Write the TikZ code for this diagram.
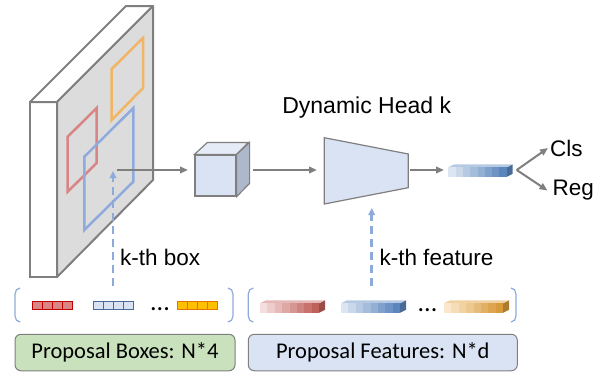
\documentclass[tikz,border=0pt]{standalone}
\usepackage{fontspec}
\setmainfont{Liberation Sans}
\newfontfamily\calibrifont{Carlito}
\usepackage{xcolor}
\usetikzlibrary{arrows.meta}

\definecolor{edgegray}{HTML}{7F7F7F}
\definecolor{mapgray}{HTML}{DCDCDC}
\definecolor{dashblue}{HTML}{8EAADB}
\definecolor{headblue}{HTML}{DAE3F3}
\definecolor{cubeside}{HTML}{ADB9CA}
\definecolor{boxred}{HTML}{D98585}
\definecolor{boxorange}{HTML}{F0B565}
\definecolor{boxblue}{HTML}{8FAADC}
\definecolor{capgreen}{HTML}{C9E2BD}
\definecolor{cellorange}{HTML}{FFC000}
\definecolor{redlight}{HTML}{F4DEDE}
\definecolor{reddark}{HTML}{C0605A}
\definecolor{bluelight}{HTML}{DCE6F2}
\definecolor{bluedark}{HTML}{5B86BD}
\definecolor{orangelight}{HTML}{FBE8CC}
\definecolor{orangedark}{HTML}{D89A3A}

% 3d feature vector: x, y (front top left), width, light, dark
\newcommand{\featbar}[5]{
  \fill[#5!80!black] (#1+#3,#2) -- (#1+#3+6,#2-3) -- (#1+#3+6,#2+6.5) -- (#1+#3,#2+9.5) -- cycle;
  \fill[#4!70!#5] (#1,#2) -- (#1+6,#2-3) -- (#1+#3+6,#2-3) -- (#1+#3,#2) -- cycle;
  \foreach \i in {0,...,7}{
    \pgfmathsetmacro\p{\i*100/7}
    \fill[#5!\p!#4] (#1+\i*#3/8,#2) rectangle (#1+\i*#3/8+#3/8+0.3,#2+9.5);
  }
}
% row of 4 box cells: x, y, fill, border
\newcommand{\cellrow}[4]{
  \foreach \i in {0,...,3}
    \draw[fill=#3, draw=#4, line width=0.9pt] (#1+\i*10,#2) rectangle +(10,8);
}
% round bracket: x, direction
\newcommand{\bracket}[2]{
  \draw[dashblue, line width=1.2pt] (#1+5*#2,288) to[out=180+90-90*#2,in=90] (#1,294)
    -- (#1,316) to[out=-90,in=180+90-90*#2] (#1+5*#2,322);
}

\begin{document}
\begin{tikzpicture}[x=1pt,y=-1pt,
  garrow/.style={draw=edgegray, line width=2pt, -{Triangle[length=8pt,width=6.5pt]}},
  barrow/.style={draw=dashblue, line width=2.5pt, dash pattern=on 8pt off 5pt, -{Triangle[length=7pt,width=6.5pt]}},
  lbl/.style={font=\fontsize{22.5}{24}\selectfont, inner sep=0pt},
  capbox/.style={draw=edgegray, line width=1pt, rounded corners=6pt, minimum height=36.5pt, inner sep=0pt, font=\calibrifont\fontsize{22.5}{24}\selectfont}]
\useasboundingbox (0,0) rectangle (601,373);
% feature map
\draw[edgegray, line width=2pt, fill=white] (30,102) rectangle (57,277);
\draw[edgegray, line width=2pt, fill=white, line join=round] (30,102) -- (126,6) -- (153,6) -- (57,102) -- cycle;
\draw[edgegray, line width=2pt, fill=mapgray, line join=round] (57,102) -- (153,6) -- (153,180) -- (57,277) -- cycle;
% boxes on the map
\draw[boxorange, line width=2.5pt] (111.7,69) -- (143,38) -- (143,88) -- (111.7,120) -- cycle;
\draw[boxred, line width=2.5pt] (67.7,136.7) -- (96.7,108) -- (96.7,163) -- (67.7,191.7) -- cycle;
\draw[boxblue, line width=2.5pt] (84.3,156.7) -- (133.3,108) -- (133.3,181.7) -- (84.3,230) -- cycle;
% roi cube
\node[fill=headblue, draw=edgegray, line width=1.2pt, minimum width=41pt, minimum height=41pt, inner sep=0pt] (cube) at (215.5,175.5) {};
\draw[edgegray, line width=1.2pt, fill=headblue!70!white] (cube.north west) -- ++(13,-12) -- ++(41,0) -- (cube.north east) -- cycle;
\draw[edgegray, line width=1.2pt, fill=cubeside] (cube.north east) -- ++(13,-12) -- ++(0,41) -- (cube.south east) -- cycle;
% dynamic head
\draw[edgegray, line width=1.2pt, fill=headblue] (324.3,137.7) -- (408.3,154) -- (408.3,187.7) -- (324.3,204) -- cycle;
\node[lbl, anchor=base, font=\fontsize{23}{24}\selectfont] (head) at (366.7,113.3) {Dynamic Head k};
% output vector
\featbar{448.3}{167.3}{58.4}{bluelight}{bluedark}
\node[lbl, anchor=west] (cls) at (550,148) {Cls};
\node[lbl, anchor=west] (reg) at (552.5,190.5) {Reg};
% connectors
\coordinate (roi) at (116.7,170);
\coordinate (cubein) at (188,170);
\coordinate (cubeout) at (253.3,170);
\coordinate (headin) at (317,170);
\coordinate (headout) at (410,170);
\coordinate (vecin) at (444,170);
\coordinate (split) at (516.7,170);
\draw[garrow] (roi) -- (cubein);
\draw[garrow] (cubeout) -- (headin);
\draw[garrow] (headout) -- (vecin);
\draw[garrow] (split) -- ([xshift=-2pt]cls.west);
\draw[garrow] (split) -- ([xshift=-5pt]reg.west);
% k-th box and feature
\coordinate (boxfrom) at (113,286);
\coordinate (boxto) at (113,171);
\coordinate (featfrom) at (371.7,286);
\coordinate (featto) at (371.7,208);
\draw[barrow] (boxfrom) -- (boxto);
\draw[barrow] (featfrom) -- (featto);
\node[lbl, anchor=base west] (kbox) at (120,265) {k-th box};
\node[lbl, anchor=base west] (kfeat) at (379.3,265) {k-th feature};
% proposal boxes
\bracket{15}{1}
\bracket{233}{-1}
\cellrow{32.7}{301.3}{boxred}{red!75!black}
\cellrow{93.3}{301.3}{headblue}{bluedark!80!black}
\cellrow{177.3}{301.3}{cellorange}{orange!90!black}
\node[lbl, font=\calibrifont\fontsize{26}{26}\selectfont, anchor=base] (bdots) at (160,310) {...};
\node[capbox, fill=capgreen, minimum width=220pt] (boxcap) at (125,352.5) {Proposal Boxes: N*4};
% proposal features
\bracket{248.3}{1}
\bracket{516}{-1}
\featbar{260}{303.3}{59}{redlight}{reddark}
\featbar{341}{303.3}{59}{bluelight}{bluedark}
\featbar{444}{303.3}{59}{orangelight}{orangedark}
\node[lbl, font=\calibrifont\fontsize{26}{26}\selectfont, anchor=base] (fdots) at (427.5,311) {...};
\node[capbox, fill=headblue, minimum width=269pt] (featcap) at (382.8,352.5) {Proposal Features: N*d};
\end{tikzpicture}
\end{document}
